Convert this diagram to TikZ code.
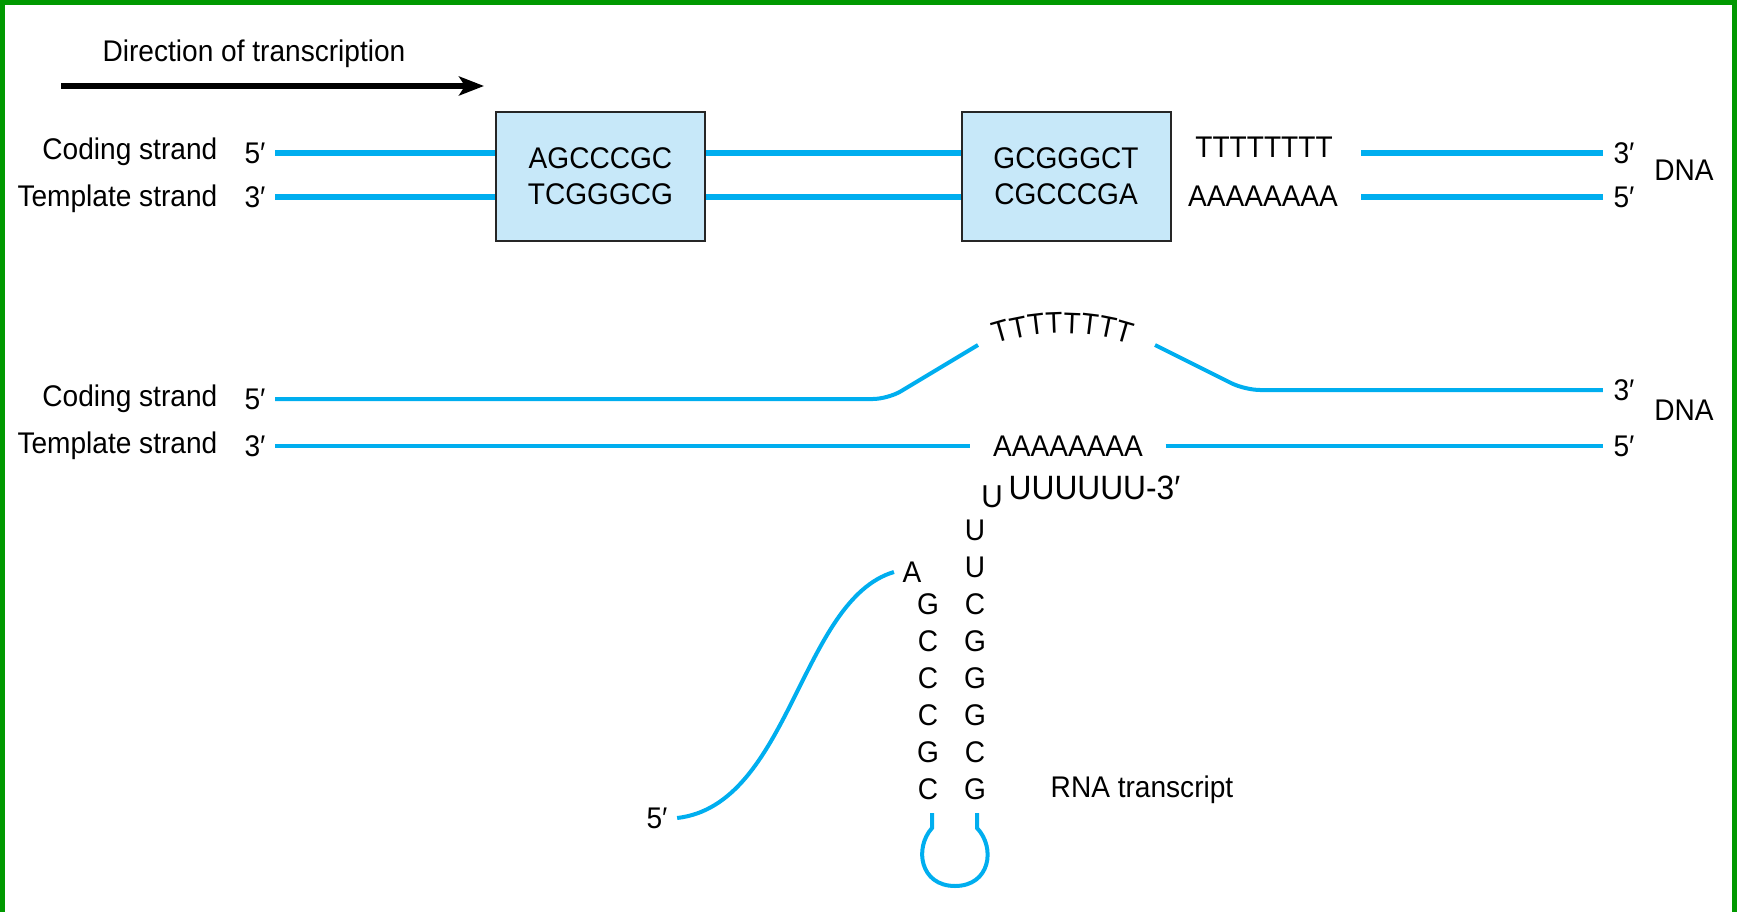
\documentclass[tikz,border=0pt]{standalone}
\usepackage{fontspec}
\setmainfont{Liberation Sans}[FakeStretch=0.94]
\usetikzlibrary{arrows.meta,calc}
\definecolor{strandblue}{RGB}{0,174,239}
\definecolor{boxblue}{RGB}{199,232,249}
\definecolor{framegreen}{RGB}{0,153,0}

\begin{document}
\begin{tikzpicture}[x=0.1mm,y=-0.1mm,
  every node/.style={inner sep=0pt,font=\fontsize{8.5pt}{10pt}\selectfont},
  dna/.style={strandblue,line width=0.57mm},
  rna/.style={strandblue,line width=0.4mm},
  seqbox/.style={draw=black!85,fill=boxblue,line width=0.2mm,minimum width=20.9mm,
    minimum height=12.9mm,align=center,font=\fontsize{8.5pt}{10.2pt}\selectfont}]
\useasboundingbox (0,0) rectangle (1737,912);
\draw[framegreen,line width=0.5mm] (2.5,912) -- (2.5,2.5) -- (1734.5,2.5) -- (1734.5,912);

% direction of transcription
\node (dir) at (254,54) {Direction of transcription};
\coordinate (dirs) at (61,86);
\coordinate (dire) at (484,86);
\draw[line width=0.55mm,-{Stealth[length=2.5mm,width=1.9mm,inset=0.6mm]}] (dirs) -- (dire);

% double stranded DNA
\node[anchor=east] (cod1) at (218,152) {Coding strand};
\node[anchor=east] (tmp1) at (218,199) {Template strand};
\node (c51) at (255,153) {5′};
\node (t31) at (255,197) {3′};
\node[seqbox] (box1) at (600.5,176.5) {AGCCCGC\\TCGGGCG};
\node[seqbox] (box2) at (1066,176.5) {GCGGGCT\\CGCCCGA};
\node (tt1) at (1264,147) {TTTTTTTT};
\node (aa1) at (1263,196) {AAAAAAAA};
\coordinate (tt1r) at (1361,153);
\coordinate (aa1r) at (1361,197);
\node (c31) at (1624,153) {3′};
\node (t51) at (1624,197) {5′};
\node (dna1) at (1684,170) {DNA};
\draw[dna] ([xshift=0.9mm]c51.east) -- (c51 -| box1.west);
\draw[dna] ([xshift=0.9mm]t31.east) -- (t31 -| box1.west);
\draw[dna] (c51 -| box1.east) -- (c51 -| box2.west);
\draw[dna] (t31 -| box1.east) -- (t31 -| box2.west);
\draw[dna] (tt1r) -- ([xshift=-1mm]c31.west);
\draw[dna] (aa1r) -- ([xshift=-1mm]t51.west);

% terminator region
\node[anchor=east] (cod2) at (218,399) {Coding strand};
\node[anchor=east] (tmp2) at (218,446) {Template strand};
\node (c52) at (255,399) {5′};
\node (t32) at (255,446) {3′};
\node (c32) at (1624,390) {3′};
\node (t52) at (1624,446) {5′};
\node (dna2) at (1684,410) {DNA};
\node[inner xsep=2.2mm] (aa2) at (1068,446) {AAAAAAAA};
\foreach \i in {0,...,7}{
  \pgfmathsetmacro\ang{106-\i*32/7}
  \pgfmathsetmacro\rot{\ang-90}
  \node[rotate=\rot] (tt2\i) at ({1063+225*cos(\ang)},{548-225*sin(\ang)}) {T};
}
\coordinate (cu1) at (888,399);
\coordinate (cu2) at (978,345);
\coordinate (cd1) at (1155,345);
\coordinate (cd2) at (1245,390);
\draw[rna,rounded corners=1.5mm] ([xshift=0.9mm]c52.east) -- (cu1) -- (cu2);
\draw[rna,rounded corners=1.5mm] (cd1) -- (cd2) -- ([xshift=-1mm]c32.west);
\draw[rna] ([xshift=0.9mm]t32.east) -- (aa2.west);
\draw[rna] (aa2.east) -- ([xshift=-1mm]t52.west);

% RNA hairpin
\node[anchor=west,font=\fontsize{9.6pt}{10pt}\selectfont] (u3) at (1008,488) {UUUUUU-3′};
\node[font=\fontsize{9pt}{10pt}\selectfont] (u0) at (992,497) {U};
\foreach \b [count=\i from 0] in {U,U,C,G,G,G,C,G}
  \node (r\i) at (975,530+37*\i) {\b};
\node (la) at (912,572) {A};
\foreach \b [count=\i] in {G,C,C,C,G,C}
  \node (l\i) at (928,567+37*\i) {\b};
\node (r5) at (657,818) {5′};
\draw[rna] ([xshift=0.9mm]r5.east) .. controls (790,805) and (800,600) .. ([xshift=-0.8mm]la.west);
\draw[rna] ($(l6)+(4,24)$) -- ++(0,15) .. controls (914,848) and (920,886) .. (955,886)
  .. controls (990,886) and (996,848) .. (977,828) -- ($(r7)+(2,24)$);
\node (rnat) at (1142,790) {RNA transcript};
\end{tikzpicture}
\end{document}
